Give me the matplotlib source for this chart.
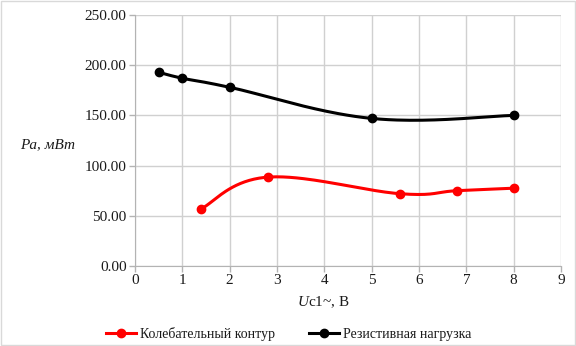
import numpy as np
import matplotlib.pyplot as plt
from matplotlib.lines import Line2D

# measured points
u_contour = [1.4, 2.8, 5.6, 6.8, 8.0]
p_contour = [57.0, 88.5, 72.0, 75.0, 77.5]
u_resist = [0.5, 1.0, 2.0, 5.0, 8.0]
p_resist = [193.0, 187.0, 178.0, 147.0, 150.0]

x_ticks = list(range(0, 10))
y_ticks = [0, 50, 100, 150, 200, 250]


def smooth(xs, ys, n=40, k=0.19):
    # bezier smoothing through every point, like spreadsheet "smoothed lines"
    pts = np.column_stack([xs, ys]).astype(float)
    out = [pts[0]]
    for i in range(len(pts) - 1):
        p0 = pts[i - 1] if i > 0 else pts[i]
        p1 = pts[i]
        p2 = pts[i + 1]
        p3 = pts[i + 2] if i + 2 < len(pts) else pts[i + 1]
        c1 = p1 + (p2 - p0) * k
        c2 = p2 - (p3 - p1) * k
        t = np.linspace(0, 1, n)[1:, None]
        seg = ((1 - t) ** 3) * p1 + 3 * ((1 - t) ** 2) * t * c1 + 3 * (1 - t) * t ** 2 * c2 + t ** 3 * p2
        out.extend(seg)
    out = np.array(out)
    return out[:, 0], out[:, 1]


plt.rcParams['font.family'] = ['Liberation Serif', 'DejaVu Serif']
plt.rcParams['font.size'] = 10.5
plt.rcParams['mathtext.fontset'] = 'custom'
plt.rcParams['mathtext.it'] = 'Liberation Serif:italic'
plt.rcParams['mathtext.rm'] = 'Liberation Serif'

TXT = '#1a1a1a'

fig = plt.figure(figsize=(5.76, 3.46), dpi=100)
ax = fig.add_axes([135 / 576, 1 - 266 / 346, 426 / 576, 251 / 346])

sx, sy = smooth(u_contour, p_contour)
ax.plot(sx, sy, color='#ff0000', lw=2.2, zorder=3)
ax.plot(u_contour, p_contour, 'o', color='#ff0000', ms=6, zorder=4)

sx, sy = smooth(u_resist, p_resist)
ax.plot(sx, sy, color='black', lw=2.2, zorder=3)
ax.plot(u_resist, p_resist, 'o', color='black', ms=6, zorder=4)

ax.set_xlim(0, 9)
ax.set_ylim(0, 250)
ax.set_xticks(x_ticks)
ax.set_yticks(y_ticks)
ax.set_yticklabels([f'{v:.2f}' for v in y_ticks])
ax.grid(True, color='#d0d0d0', lw=1)
ax.set_axisbelow(True)
for side in ['top', 'right']:
    ax.spines[side].set_visible(False)
for side in ['left', 'bottom']:
    ax.spines[side].set_color('#b3b3b3')
ax.tick_params(colors='#b3b3b3', labelcolor=TXT, length=4, width=1, labelsize=11)
ax.tick_params(axis='x', pad=2)
ax.tick_params(axis='y', pad=2)

fig.text(20 / 576, 1 - 145 / 346, 'Pa, мВт', style='italic', fontsize=11,
         va='center', ha='left', color=TXT)
fig.text(297 / 576, 1 - 302 / 346, r'$U$' + 'c1~, В', fontsize=11,
         va='center', ha='left', color=TXT)

handles = [
    Line2D([], [], color='#ff0000', lw=2.2, marker='o', ms=6),
    Line2D([], [], color='black', lw=2.2, marker='o', ms=6),
]
fig.legend(handles, ['Колебательный контур', 'Резистивная нагрузка'],
           loc='center', bbox_to_anchor=(0.501, 1 - 334 / 346), ncol=2,
           frameon=False, handlelength=2.15, handletextpad=0.3,
           columnspacing=2.45, fontsize=10, labelcolor=TXT)

# light frame round the whole chart
fig.patches.append(plt.Rectangle((0.001, 0.002), 0.997, 0.995, transform=fig.transFigure,
                                 fill=False, edgecolor='#d9d9d9', lw=1))

fig.savefig('out.png', dpi=100)
